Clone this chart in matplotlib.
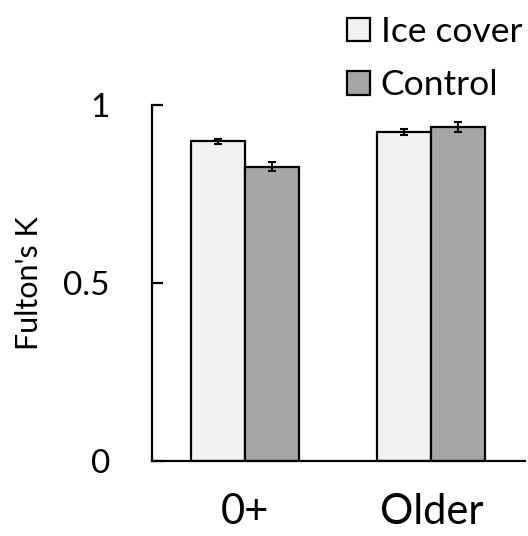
import matplotlib
matplotlib.use("Agg")
import matplotlib.pyplot as plt
import numpy as np

plt.rcParams["font.family"] = ["Lato", "DejaVu Sans"]

groups = ["0+", "Older"]
series = ["Ice cover", "Control"]
ice_k = [0.899, 0.925]
ice_err = [0.007, 0.009]
control_k = [0.827, 0.939]
control_err = [0.012, 0.014]
yticks = [0, 0.5, 1]
ytick_labels = ["0", "0.5", "1"]

colors = {"Ice cover": "#f2f2f2", "Control": "#a6a6a6"}
width = 0.289

fig = plt.figure(figsize=(5.28, 5.36), dpi=100)
ax = fig.add_axes([0.287, 0.139, 0.7064, 0.665])

x = np.arange(len(groups))
err_kw = dict(ecolor="black", elinewidth=1.5, capsize=3, capthick=1.5)
ax.bar(x - width / 2, ice_k, width, yerr=ice_err, color=colors["Ice cover"],
       edgecolor="black", linewidth=1.6, label=series[0], error_kw=err_kw)
ax.bar(x + width / 2, control_k, width, yerr=control_err, color=colors["Control"],
       edgecolor="black", linewidth=1.6, label=series[1], error_kw=err_kw)

ax.set_xlim(-0.5, 1.5)
ax.set_ylim(0, 1)
ax.set_xticks(x)
ax.set_xticklabels(groups, fontsize=30)
ax.set_yticks(yticks)
ax.set_yticklabels(ytick_labels, fontsize=24)
ax.tick_params(axis="x", length=0, pad=23)
ax.tick_params(axis="y", direction="in", length=8, width=1.6, pad=30)
ax.set_ylabel("Fulton's K", fontsize=22, labelpad=15)

for side in ("top", "right"):
    ax.spines[side].set_visible(False)
for side in ("left", "bottom"):
    ax.spines[side].set_linewidth(1.6)

fig.legend(loc="upper left", bbox_to_anchor=(0.657, 0.970), frameon=False,
           fontsize=25.5, handlelength=0.65, handleheight=0.65,
           handletextpad=0.3, labelspacing=0.6, borderpad=0, borderaxespad=0)

fig.savefig("out.png", dpi=100)
